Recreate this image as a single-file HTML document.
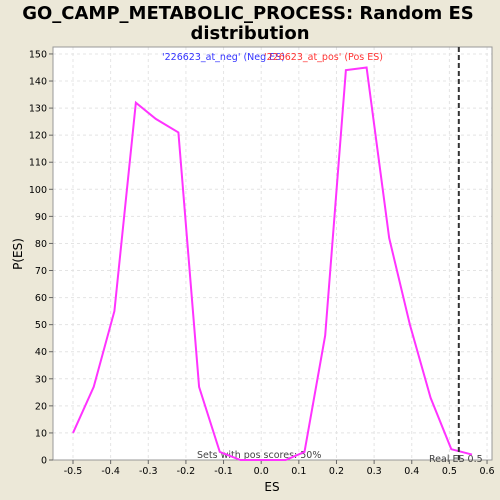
<!DOCTYPE html>
<html><head><meta charset="utf-8"><style>
body{margin:0;background:#ece8d8;}
svg{display:block;font-family:"DejaVu Sans","Liberation Sans",sans-serif;}
</style></head><body>
<svg id="c" width="500" height="500">
<rect width="500" height="500" fill="#ece8d8"/>
<text x="248" y="19" text-anchor="middle" font-size="18" font-weight="bold">GO_CAMP_METABOLIC_PROCESS: Random ES</text>
<text x="250" y="39" text-anchor="middle" font-size="18" font-weight="bold">distribution</text>
<rect x="53" y="47" width="439" height="413" fill="#fff"/>
<g id="grid"></g>
<rect x="53" y="47" width="439" height="413" fill="none" stroke="#999"/>
<g id="axes"></g>
<text x="272" y="491" text-anchor="middle" font-size="12">ES</text>
<text x="22" y="254" text-anchor="middle" font-size="12" transform="rotate(-90 22 254)">P(ES)</text>
<text x="162" y="60" font-size="9.5" fill="#3333ff">'226623_at_neg' (Neg ES)</text>
<text x="264" y="60" font-size="9.5" fill="#ff3333">'226623_at_pos' (Pos ES)</text>
<text x="197" y="458" font-size="9.5" fill="#444">Sets with pos scores: 50%</text>
<text x="429" y="462" font-size="9.5" fill="#444">Real ES 0.5</text>
<path id="line" fill="none" stroke="#ff33ff" stroke-width="2"/>
<line id="real" stroke="#333" stroke-width="2" stroke-dasharray="5,3"/>
</svg>
<script>
const esValues=[-0.5,-0.445,-0.39,-0.333,-0.28,-0.22,-0.165,-0.11,-0.055,0,0.065,0.115,0.17,0.225,0.28,0.34,0.395,0.45,0.505,0.56];
const pValues=[10,27,55,132,126,121,27,3,0,0,0,3,46,144,145,82,50,23,4,2];
const xTicks=[-0.5,-0.4,-0.3,-0.2,-0.1,0.0,0.1,0.2,0.3,0.4,0.5,0.6];
const yTicks=[0,10,20,30,40,50,60,70,80,90,100,110,120,130,140,150];
const realES=[0.525];
const X=v=>261.2+v*376.4, Y=v=>460-v*2.707;
const NS='http://www.w3.org/2000/svg';
const g=document.getElementById('grid'),a=document.getElementById('axes');
function mk(tag,at,p){const e=document.createElementNS(NS,tag);for(const k in at)e.setAttribute(k,at[k]);p.appendChild(e);return e;}
xTicks.forEach(t=>{const x=X(t);
const gl=mk('line',{x1:x,x2:x,y1:47,y2:460,stroke:'#e4e4e4','stroke-dasharray':'3,3'},g);


mk('line',{x1:x,x2:x,y1:460,y2:464,stroke:'#666'},a);
const tx=mk('text',{x:x,y:474,'text-anchor':'middle','font-size':'9.5'},a);tx.textContent=t.toFixed(1);

});
yTicks.forEach(t=>{const y=Y(t);
const gl=mk('line',{x1:53,x2:492,y1:y,y2:y,stroke:'#e4e4e4','stroke-dasharray':'3,3'},g);


mk('line',{x1:49,x2:53,y1:y,y2:y,stroke:'#666'},a);
const tx=mk('text',{x:47,y:y+3.5,'text-anchor':'end','font-size':'9.5'},a);tx.textContent=t;

});
document.getElementById('line').setAttribute('d',esValues.map((v,i)=>(i?'L':'M')+X(v)+','+Y(pValues[i])).join(''));
const r=document.getElementById('real');const rx=X(realES[0]);
r.setAttribute('x1',rx);r.setAttribute('x2',rx);r.setAttribute('y1',47);r.setAttribute('y2',460);
</script>
</body></html>
